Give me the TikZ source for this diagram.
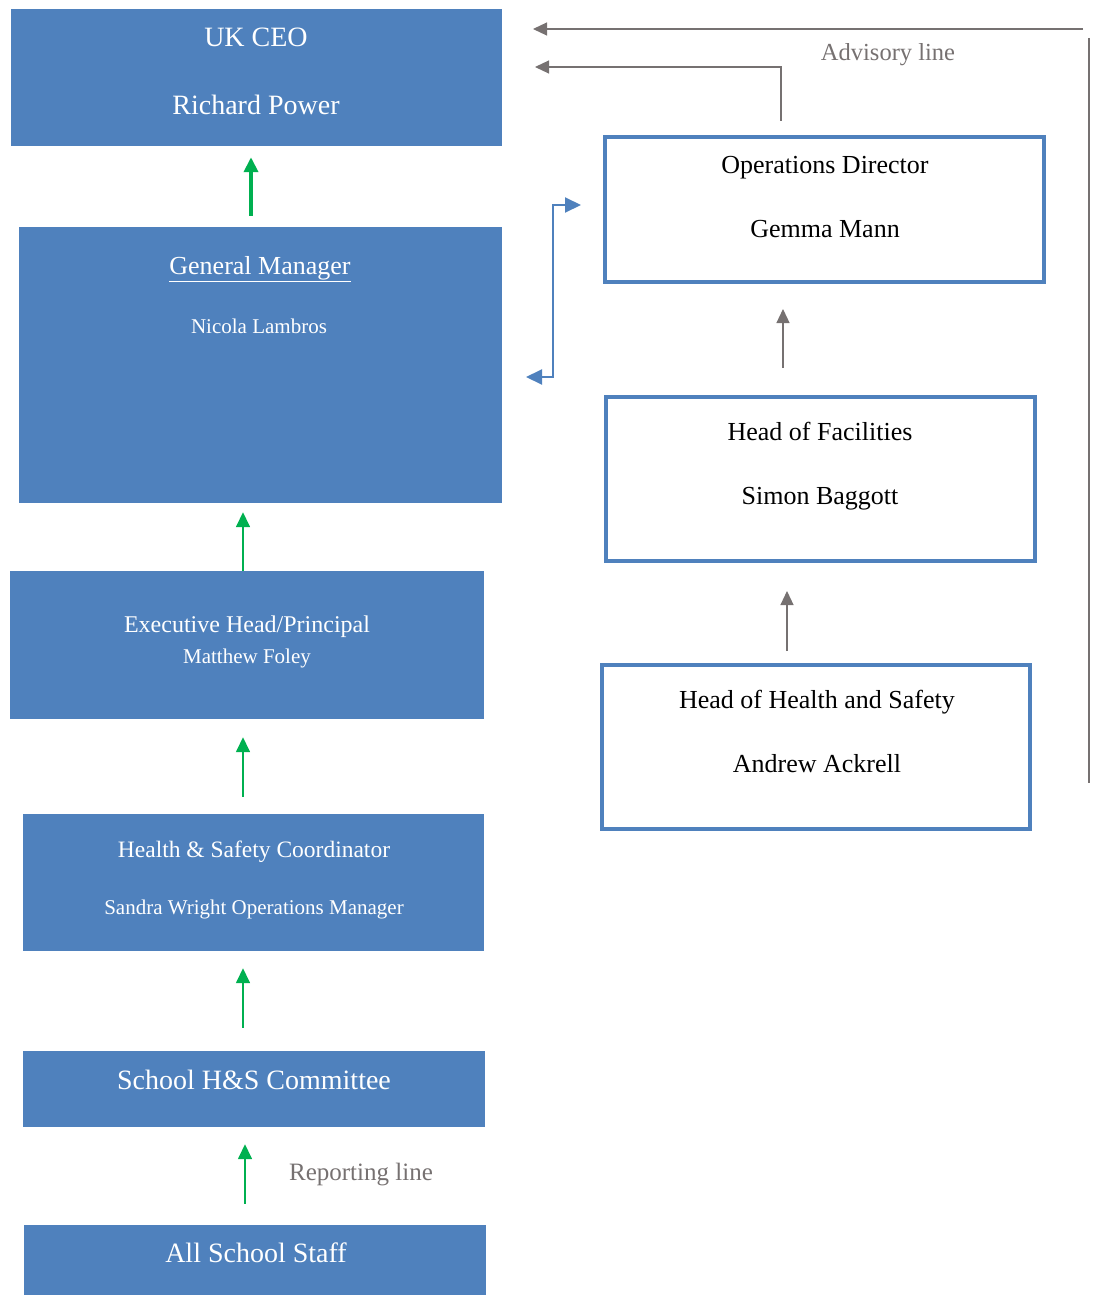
\documentclass[tikz,border=0pt]{standalone}
\usepackage{fontspec}
\setmainfont{Liberation Serif}
\usetikzlibrary{arrows.meta}

\definecolor{boxblue}{HTML}{4F81BD}
\definecolor{rptgreen}{HTML}{00B050}
\definecolor{advgrey}{HTML}{767171}

\tikzset{
  bluebox/.style={fill=boxblue, draw=none, inner sep=0pt},
  whitebox/.style={fill=white, draw=boxblue, line width=4pt, inner sep=0pt},
  boxtext/.style={anchor=base, inner sep=0pt, text=white},
  sidetext/.style={anchor=base, inner sep=0pt, text=black},
  rptline/.style={draw=rptgreen, line width=1.6pt, -{Triangle[width=14pt,length=15pt]}},
  advline/.style={draw=advgrey, line width=1.2pt, -{Triangle[width=13pt,length=14pt]}},
  liaison/.style={draw=boxblue, line width=2pt, {Triangle[width=15pt,length=16pt]}-{Triangle[width=15pt,length=16pt]}},
}
\newcommand{\fs}[1]{\fontsize{#1}{#1}\selectfont}

\begin{document}
\begin{tikzpicture}[x=1pt, y=-1pt]
\useasboundingbox (0,0) rectangle (1097,1295);

% left column, reporting chain
\node[bluebox, minimum width=491, minimum height=137] (ceo) at (256.5,77.5) {};
\node[bluebox, minimum width=483, minimum height=276] (gm) at (260.5,365) {};
\node[bluebox, minimum width=474, minimum height=148] (exec) at (247,645) {};
\node[bluebox, minimum width=461, minimum height=137] (hs) at (253.5,882.5) {};
\node[bluebox, minimum width=462, minimum height=76] (cttee) at (254,1089) {};
\node[bluebox, minimum width=462, minimum height=70] (staff) at (255,1260) {};

\node[boxtext] (ceotitle) at (256,47) {\fs{28}UK CEO};
\node[boxtext] (ceoname) at (256,115) {\fs{28}Richard Power};
\node[boxtext] (gmtitle) at (260,274) {\fs{26}\underline{General Manager}};
\node[boxtext] (gmname) at (259,333) {\fs{21}Nicola Lambros};
\node[boxtext] (exectitle) at (247,632) {\fs{24}Executive Head/Principal};
\node[boxtext] (execname) at (247,663) {\fs{21}Matthew Foley};
\node[boxtext] (hstitle) at (254,857) {\fs{23.5}Health \& Safety Coordinator};
\node[boxtext] (hsname) at (254,914) {\fs{21}Sandra Wright Operations Manager};
\node[boxtext] (ctteetitle) at (254,1089) {\fs{28}School H\&S Committee};
\node[boxtext] (stafftitle) at (256,1262) {\fs{28}All School Staff};

% right column, facilities chain
\node[whitebox, minimum width=439, minimum height=145] (ops) at (824.5,209.5) {};
\node[whitebox, minimum width=429, minimum height=164] (hof) at (820.5,479) {};
\node[whitebox, minimum width=428, minimum height=164] (hhs) at (816,747) {};

\node[sidetext] (opstitle) at (825,173) {\fs{26}Operations Director};
\node[sidetext] (opsname) at (825,237) {\fs{26}Gemma Mann};
\node[sidetext] (hoftitle) at (820,440) {\fs{26}Head of Facilities};
\node[sidetext] (hofname) at (820,504) {\fs{26}Simon Baggott};
\node[sidetext] (hhstitle) at (817,708) {\fs{26}Head of Health and Safety};
\node[sidetext] (hhsname) at (817,772) {\fs{26}Andrew Ackrell};

% labels
\node[sidetext, text=advgrey] (advlabel) at (888,61) {\fs{24.5}Advisory line};
\node[sidetext, text=advgrey] (rptlabel) at (361,1180) {\fs{25}Reporting line};

% reporting arrows
\draw[rptline, line width=4pt, shorten <=11pt, shorten >=11pt] ([xshift=-9.5pt]gm.north) -- ([xshift=-5.5pt]ceo.south);
\draw[rptline, shorten >=9pt] ([xshift=-4pt]exec.north) -- ([xshift=-17.5pt]gm.south);
\draw[rptline, shorten <=17pt, shorten >=18pt] ([xshift=-10.5pt]hs.north) -- ([xshift=-4pt]exec.south);
\draw[rptline, shorten <=23pt, shorten >=17pt] ([xshift=-11pt]cttee.north) -- ([xshift=-10.5pt]hs.south);
\draw[rptline, shorten <=21pt, shorten >=17pt] ([xshift=-10pt]staff.north) -- ([xshift=-9pt]cttee.south);

% facilities arrows
\draw[advline, shorten <=27pt, shorten >=25pt] ([xshift=-37.5pt]hof.north) -- ([xshift=-41.5pt]ops.south);
\draw[advline, shorten <=12pt, shorten >=28pt] ([xshift=-29pt]hhs.north) -- ([xshift=-33.5pt]hof.south);

% advisory lines
\coordinate (advstart) at (1083,29);
\coordinate (advtipa) at (533,29);
\coordinate (advtipb) at (535,67);
\coordinate (advtop) at (1089,38);
\coordinate (advbottom) at (1089,783);
\draw[advline] (advstart) -- (advtipa);
\draw[advline] ([xshift=-43.5pt,yshift=14pt]ops.north) |- (advtipb);
\draw[advgrey, line width=1.6pt] (advtop) -- (advbottom);

% liaison between general manager and operations director
\coordinate (gmtip) at (526,377);
\coordinate (opstip) at (581,205);
\draw[liaison] (gmtip) -- ++(27,0) |- (opstip);
\end{tikzpicture}
\end{document}
